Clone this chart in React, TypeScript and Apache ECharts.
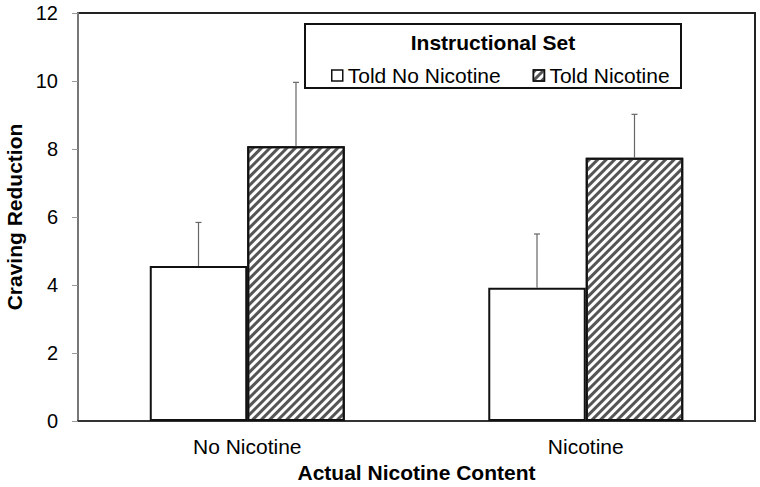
import React, { useEffect, useRef } from "react";
import * as echarts from "echarts";

const categories = ["No Nicotine", "Nicotine"];
const seriesNames = ["Told No Nicotine", "Told Nicotine"];
const toldNoNicotine = [4.56, 3.92];
const toldNicotine = [8.08, 7.74];
const errToldNoNicotine = [1.28, 1.58];
const errToldNicotine = [1.88, 1.28];
const yTicks = [0, 2, 4, 6, 8, 10, 12];

const FONT = "Liberation Sans, Arial, sans-serif";

export default function App() {
  const ref = useRef<HTMLDivElement>(null);
  useEffect(() => {
    if (!ref.current) return;
    const chart = echarts.init(ref.current, undefined, { renderer: "svg" });
    const barPct = 0.288;
    const errData: number[][] = [];
    toldNoNicotine.forEach((v, i) => errData.push([i, v, errToldNoNicotine[i], 0]));
    toldNicotine.forEach((v, i) => errData.push([i, v, errToldNicotine[i], 1]));
    const hatch = {
      symbol: "rect",
      symbolSize: 1,
      color: "#555555",
      backgroundColor: "#ffffff",
      dashArrayX: [1, 0],
      dashArrayY: [3, 3],
      rotation: -Math.PI / 4,
    };
    chart.setOption({
      animation: false,
      textStyle: { fontFamily: FONT },
      grid: {
        left: 78,
        right: 5,
        top: 13,
        bottom: 66,
        show: true,
        borderColor: "#222",
        borderWidth: 2,
        containLabel: false,
        outerBoundsMode: "none",
      },
      legend: {
        data: seriesNames,
        left: 326,
        top: 60,
        z: 30,
        icon: "rect",
        itemWidth: 11,
        itemHeight: 11,
        itemGap: 32,
        itemTextGap: 6,
        itemStyle: { borderWidth: 1.5, borderColor: "#111" },
        textStyle: { fontSize: 21, color: "#000", fontFamily: FONT },
        selectedMode: false,
      },
      xAxis: {
        type: "category",
        data: categories,
        name: "Actual Nicotine Content",
        nameLocation: "middle",
        nameGap: 33,
        nameTextStyle: { fontSize: 21, fontWeight: "bold", color: "#000", fontFamily: FONT },
        axisLine: { lineStyle: { color: "#333", width: 2 } },
        axisTick: { show: false },
        axisLabel: { fontSize: 21, color: "#000", margin: 15, fontFamily: FONT },
      },
      yAxis: {
        type: "value",
        min: yTicks[0],
        max: yTicks[yTicks.length - 1],
        interval: 2,
        name: "Craving Reduction",
        nameLocation: "middle",
        nameGap: 53,
        nameTextStyle: { fontSize: 21, fontWeight: "bold", color: "#000", fontFamily: FONT },
        axisLine: { show: true, lineStyle: { color: "#777", width: 2 } },
        axisTick: { show: true, length: 6, lineStyle: { color: "#999" } },
        axisLabel: { fontSize: 20, color: "#000", margin: 20, fontFamily: FONT },
        splitLine: { show: false },
      },
      graphic: [
        {
          type: "rect",
          shape: { x: 305, y: 24, width: 376, height: 64 },
          style: { fill: "#fff", stroke: "#111", lineWidth: 2 },
          z: 10,
        },
        {
          type: "text",
          x: 493,
          y: 42,
          style: {
            text: "Instructional Set",
            font: `bold 21px ${FONT}`,
            fill: "#000",
            align: "center",
            verticalAlign: "middle",
          },
          z: 11,
        },
      ],
      series: [
        {
          name: seriesNames[0],
          type: "bar",
          data: toldNoNicotine,
          barWidth: `${barPct * 100}%`,
          barGap: "0%",
          itemStyle: { color: "#fff", borderColor: "#111", borderWidth: 2 },
          z: 2,
        },
        {
          name: seriesNames[1],
          type: "bar",
          data: toldNicotine,
          barWidth: `${barPct * 100}%`,
          barGap: "0%",
          itemStyle: { color: "#fff", borderColor: "#111", borderWidth: 2, decal: hatch },
          z: 2,
        },
        {
          type: "custom",
          data: errData,
          z: 3,
          renderItem: (params: any, api: any) => {
            const cat = api.value(0);
            const v = api.value(1);
            const e = api.value(2);
            const s = api.value(3);
            const bandW = api.size([1, 0])[0];
            const bw = bandW * barPct;
            const c = api.coord([cat, v]);
            const t = api.coord([cat, v + e]);
            const x = c[0] + (s === 0 ? -bw / 2 : bw / 2);
            const style = { stroke: "#666", lineWidth: 1.2 };
            return {
              type: "group",
              children: [
                { type: "line", shape: { x1: x, y1: c[1], x2: x, y2: t[1] }, style },
                { type: "line", shape: { x1: x - 3, y1: t[1], x2: x + 3, y2: t[1] }, style },
              ],
            };
          },
        },
      ],
    });
    return () => chart.dispose();
  }, []);
  return <div ref={ref} style={{ width: 760, height: 487, position: "absolute", left: 0, top: 0 }} />;
}
